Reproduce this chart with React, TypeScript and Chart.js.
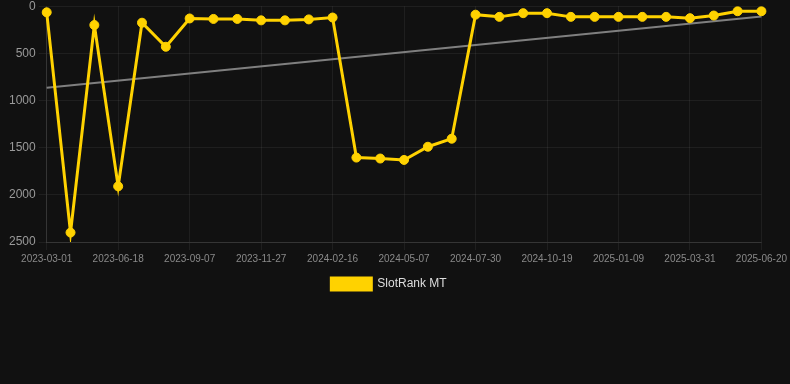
import React, { useEffect, useRef } from "react";
import { Chart, registerables } from "chart.js";

Chart.register(...registerables);

const labels: string[] = [
  "2023-03-01", "2023-04-06", "2023-05-12", "2023-06-18", "2023-07-15", "2023-08-11",
  "2023-09-07", "2023-10-04", "2023-10-31", "2023-11-27", "2023-12-24", "2024-01-20",
  "2024-02-16", "2024-03-14", "2024-04-10", "2024-05-07", "2024-06-04", "2024-07-02",
  "2024-07-30", "2024-08-26", "2024-09-22", "2024-10-19", "2024-11-15", "2024-12-12",
  "2025-01-09", "2025-02-05", "2025-03-04", "2025-03-31", "2025-04-27", "2025-05-24",
  "2025-06-20",
];

const rankValues: number[] = [
  65, 2400, 200, 1910, 175, 430, 130, 135, 135, 150, 150, 140,
  120, 1605, 1615, 1630, 1490, 1405, 90, 113, 74, 74, 113, 113,
  113, 113, 113, 127, 99, 53, 53,
];

const trendValues: (number | null)[] = [
  865, null, null, null, null, null, null, null, null, null, null, null,
  null, null, null, null, null, null, null, null, null, null, null, null,
  null, null, null, null, null, null, 110,
];

const yTicks: number[] = [0, 500, 1000, 1500, 2000, 2500];

export default function App() {
  const ref = useRef<HTMLCanvasElement | null>(null);

  useEffect(() => {
    document.body.style.margin = "0";
    document.body.style.background = "#111111";
    if (!ref.current) return;
    const chart = new Chart(ref.current, {
      type: "line",
      data: {
        labels,
        datasets: [
          {
            label: "SlotRank MT",
            data: rankValues,
            borderColor: "#FFD200",
            backgroundColor: "#FFD200",
            borderWidth: 3,
            pointRadius: 4.5,
            pointHoverRadius: 4.5,
            pointBorderWidth: 1,
            pointBackgroundColor: "#FFD200",
            pointBorderColor: "#FFD200",
            tension: 0,
          },
          {
            label: "trend",
            data: trendValues,
            borderColor: "rgba(140,140,140,0.9)",
            backgroundColor: "rgba(140,140,140,0.9)",
            borderWidth: 2,
            pointRadius: 0,
            spanGaps: true,
          },
        ],
      },
      options: {
        animation: false,
        responsive: true,
        maintainAspectRatio: false,
        layout: { padding: { left: 6, right: 18 } },
        plugins: {
          legend: {
            position: "bottom",
            labels: {
              color: "#dddddd",
              font: { family: "Liberation Sans, Arial, sans-serif", size: 12 },
              filter: (item) => item.text !== "trend",
            },
          },
          tooltip: { enabled: false },
        },
        scales: {
          x: {
            grid: { color: "rgba(255,255,255,0.06)" },
            border: { color: "rgba(255,255,255,0.1)" },
            ticks: {
              color: "#8a8a8a",
              font: { family: "Liberation Sans, Arial, sans-serif", size: 10 },
              maxRotation: 0,
              autoSkip: true,
              maxTicksLimit: 11,
            },
          },
          y: {
            reverse: true,
            min: yTicks[0],
            max: yTicks[yTicks.length - 1],
            grid: { color: "rgba(255,255,255,0.06)" },
            border: { color: "rgba(255,255,255,0.1)" },
            afterBuildTicks: (axis) => {
              axis.ticks = yTicks.map((v) => ({ value: v }));
            },
            ticks: {
              color: "#9a9a9a",
              font: { family: "Liberation Sans, Arial, sans-serif", size: 12 },
              callback: (v) => String(v),
            },
          },
        },
      },
    });
    return () => chart.destroy();
  }, []);

  return (
    <div style={{ width: 790, height: 304, position: "relative", marginTop: -4 }}>
      <canvas ref={ref} />
    </div>
  );
}
